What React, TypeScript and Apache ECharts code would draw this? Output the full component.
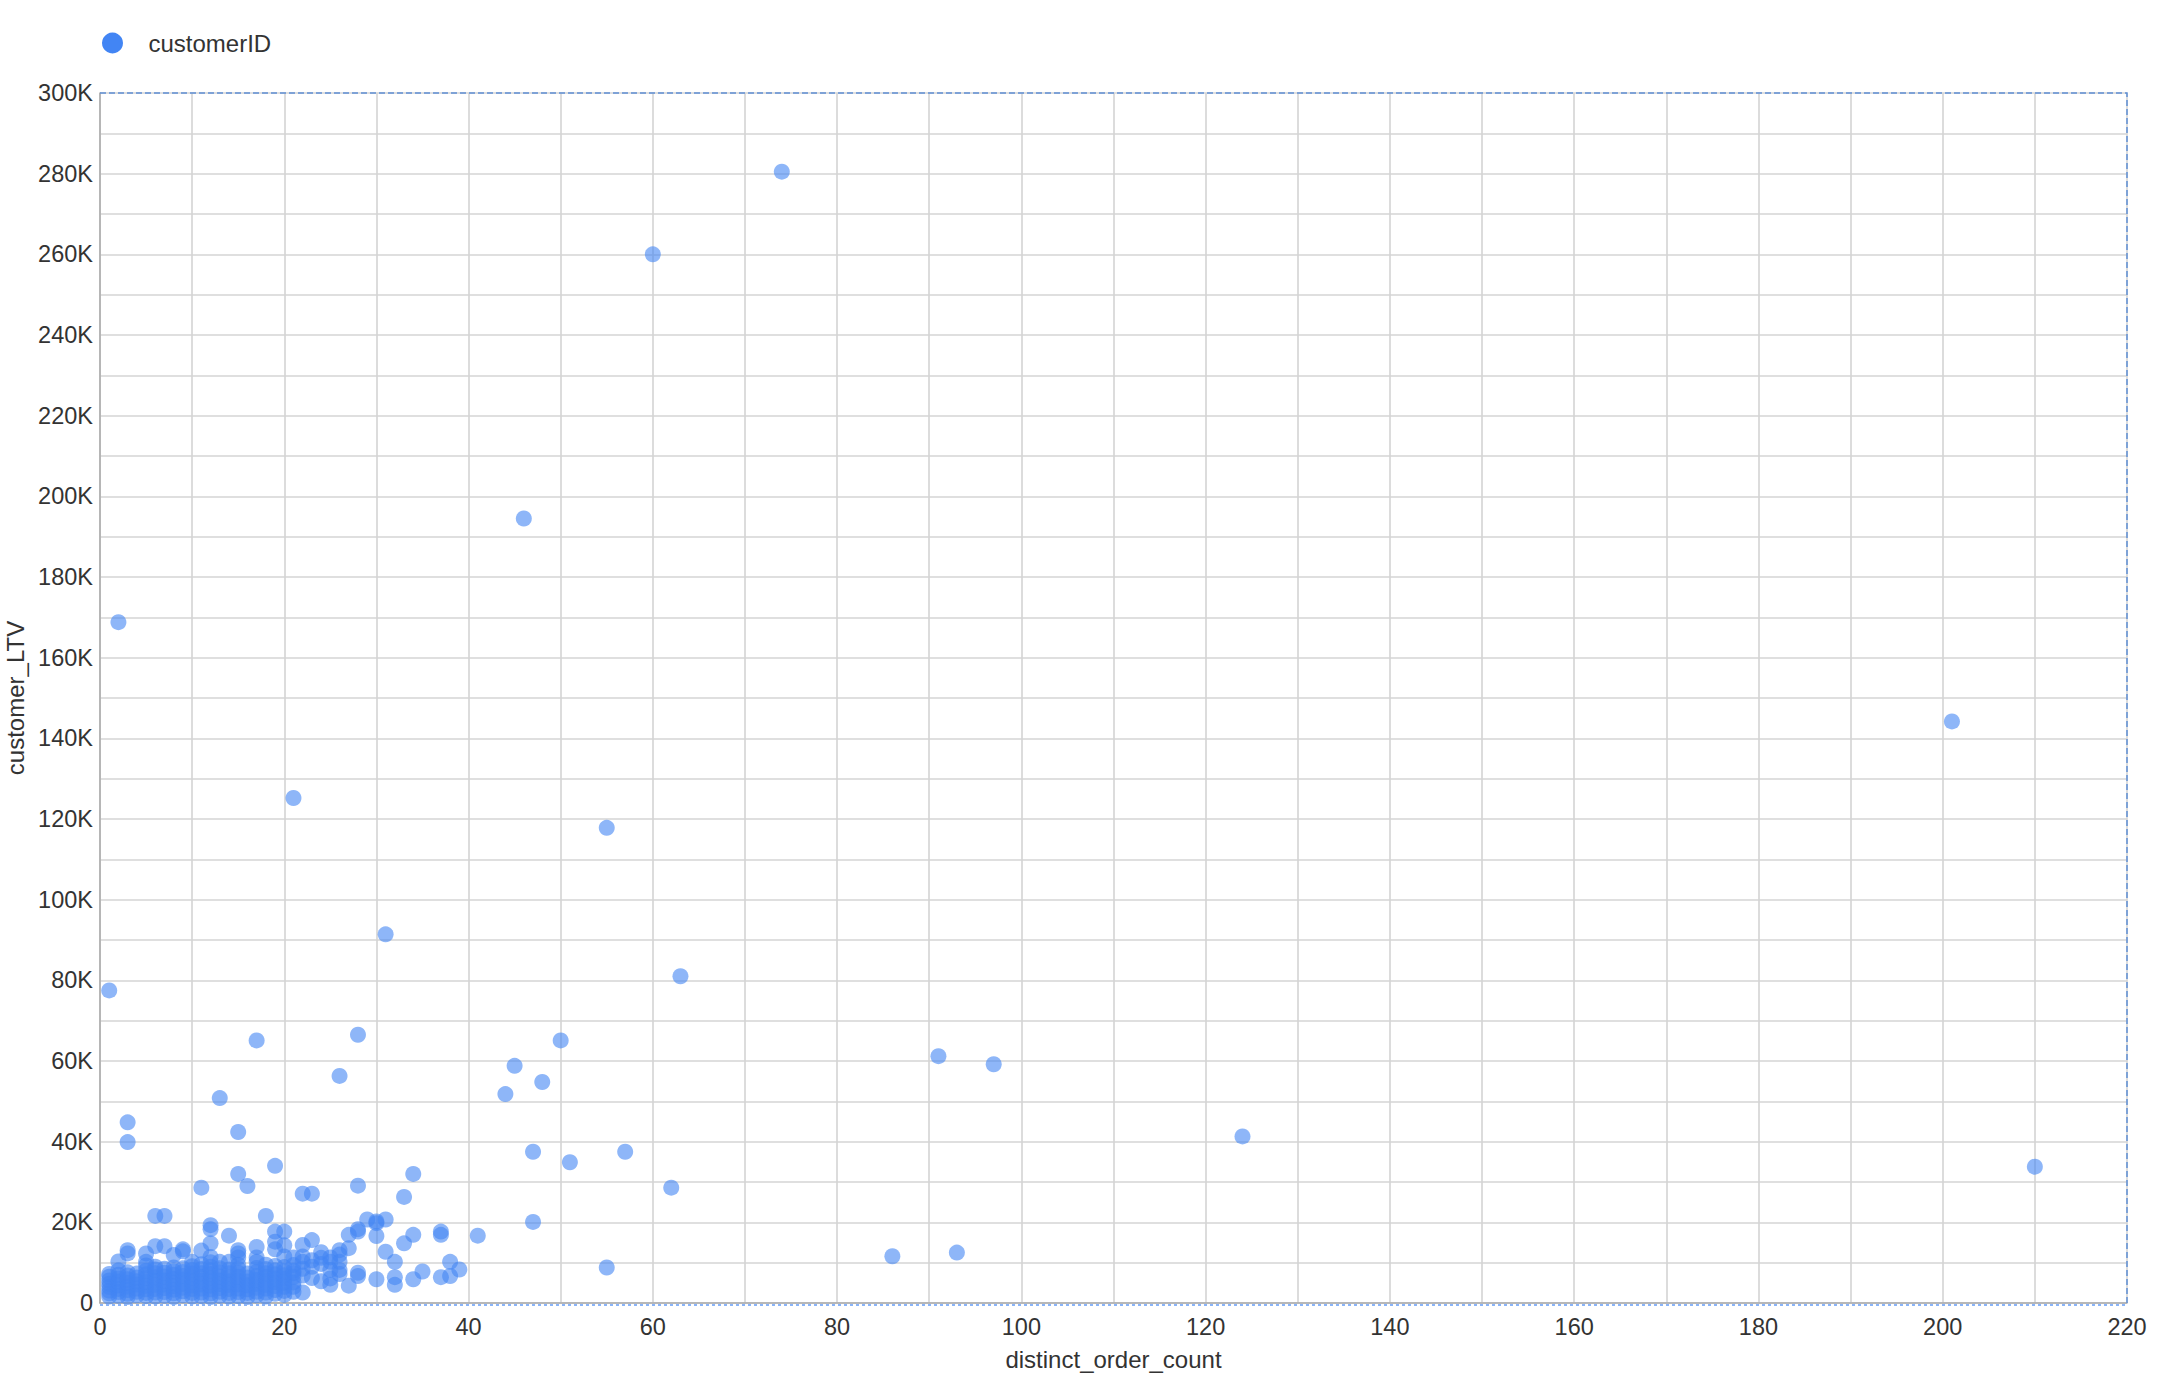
import React, { useEffect, useRef } from "react";
import * as echarts from "echarts";

const seriesName = "customerID";
const xAxisName = "distinct_order_count";
const yAxisName = "customer_LTV";

// [distinct_order_count, customer_LTV]
const outlierPoints: [number, number][] = [
  [74, 280500], [60, 260000], [46, 194500], [2, 168800], [201, 144200], [21, 125200],
  [55, 117800], [31, 91400], [63, 81000], [1, 77500], [28, 66500], [17, 65100],
  [50, 65100], [91, 61200], [97, 59200], [45, 58800], [26, 56300], [48, 54800],
  [44, 51800], [13, 50800], [3, 44800], [15, 42400], [124, 41300], [3, 39900],
  [47, 37500], [57, 37500], [51, 34900], [210, 33800], [19, 34000], [34, 32000],
  [15, 32000], [11, 28600], [16, 29000], [28, 29100], [62, 28600], [22, 27100],
  [23, 27100], [33, 26300], [6, 21600], [7, 21600], [18, 21600], [47, 20100],
  [86, 11600], [93, 12500], [55, 8800],
];

const midPoints: [number, number][] = [
  [12, 19300], [12, 18300], [14, 16700], [19, 17700], [20, 17700], [19, 15200],
  [20, 14300], [12, 14800], [15, 13100], [15, 12300], [17, 13900], [19, 13300],
  [17, 11300], [15, 11300], [11, 13000], [3, 13100], [3, 12300], [5, 12300],
  [6, 14100], [7, 14100], [9, 13300], [2, 10300], [8, 11900], [10, 10200],
  [5, 10200], [12, 11400], [13, 10200], [14, 10200], [17, 10200], [18, 9500],
  [9, 12800], [20, 11500], [21, 11300], [21, 9400], [21, 8000], [21, 6500],
  [21, 4000], [22, 14400], [22, 11500], [22, 10200], [22, 2600], [22, 6800],
  [22, 8500], [23, 15600], [23, 10600], [23, 9000], [23, 6200], [24, 12600],
  [24, 9700], [24, 11200], [24, 5400], [25, 11300], [25, 10200], [25, 8200],
  [25, 6100], [25, 4500], [26, 13100], [26, 12000], [26, 10200], [26, 8200],
  [26, 7200], [27, 16900], [27, 13600], [27, 4300], [28, 18300], [28, 17700],
  [28, 7500], [28, 6700], [29, 20700], [30, 20200], [30, 19800], [30, 16600],
  [30, 5900], [31, 20700], [31, 12700], [32, 10200], [32, 6400], [32, 4500],
  [33, 14800], [34, 16900], [34, 5900], [35, 7800], [37, 17700], [37, 16900],
  [37, 6400], [38, 10200], [38, 6700], [39, 8300], [41, 16700],
];

const clusterPoints: [number, number][] = [
  [1, 1600], [1, 2400], [1, 3100], [1, 4000], [1, 4800], [1, 5600], [1, 6500], [1, 7200],
  [2, 1800], [2, 2700], [2, 3500], [2, 4400], [2, 5300], [2, 6100], [2, 7000], [2, 8100],
  [3, 1500], [3, 2300], [3, 3200], [3, 4100], [3, 5000], [3, 5900], [3, 6800], [3, 7600],
  [4, 1900], [4, 2800], [4, 3600], [4, 4600], [4, 5400], [4, 6300], [4, 7300],
  [5, 1700], [5, 2500], [5, 3400], [5, 4300], [5, 5200], [5, 6200], [5, 7100], [5, 8000], [5, 9300],
  [6, 1600], [6, 2600], [6, 3500], [6, 4500], [6, 5500], [6, 6400], [6, 7400], [6, 8300], [6, 9000],
  [7, 1800], [7, 2700], [7, 3700], [7, 4600], [7, 5600], [7, 6600], [7, 7500], [7, 8500],
  [8, 1500], [8, 2400], [8, 3300], [8, 4200], [8, 5100], [8, 6000], [8, 7000], [8, 7900], [8, 8800],
  [9, 1900], [9, 2900], [9, 3800], [9, 4800], [9, 5800], [9, 6700], [9, 7700], [9, 8600],
  [10, 1600], [10, 2500], [10, 3500], [10, 4400], [10, 5400], [10, 6300], [10, 7300], [10, 8200], [10, 9100],
  [11, 1700], [11, 2600], [11, 3600], [11, 4600], [11, 5500], [11, 6500], [11, 7400], [11, 8400], [11, 9600],
  [12, 1500], [12, 2400], [12, 3400], [12, 4300], [12, 5300], [12, 6200], [12, 7200], [12, 8100], [12, 9000], [12, 10100],
  [13, 1800], [13, 2800], [13, 3700], [13, 4700], [13, 5600], [13, 6600], [13, 7600], [13, 8600],
  [14, 1600], [14, 2500], [14, 3500], [14, 4500], [14, 5400], [14, 6400], [14, 7400], [14, 8300],
  [15, 1700], [15, 2700], [15, 3600], [15, 4600], [15, 5600], [15, 6500], [15, 7500], [15, 8500], [15, 9500],
  [16, 1500], [16, 2500], [16, 3400], [16, 4400], [16, 5300], [16, 6300], [16, 7300],
  [17, 1900], [17, 2800], [17, 3800], [17, 4800], [17, 5700], [17, 6700], [17, 7700], [17, 8700],
  [18, 1600], [18, 2600], [18, 3600], [18, 4500], [18, 5500], [18, 6500], [18, 7400], [18, 8400],
  [19, 2300], [19, 3200], [19, 4200], [19, 5200], [19, 6100], [19, 7100], [19, 8100], [19, 9200],
  [20, 2000], [20, 3000], [20, 4000], [20, 5000], [20, 6000], [20, 6900], [20, 7900], [20, 8900],
  [21, 2800], [21, 5100], [21, 7400],
];

const textColor = "#333333";
const fontFamily = "'Liberation Sans', Arial, Helvetica, sans-serif";

function formatK(v: number): string {
  return v === 0 ? "0" : v / 1000 + "K";
}

const GRID_LEFT = 100;
const GRID_RIGHT = 39;
const GRID_TOP = 93;
const GRID_BOTTOM = 83;
const W = 2166;
const H = 1386;

export default function App() {
  const ref = useRef<HTMLDivElement>(null);
  useEffect(() => {
    document.body.style.margin = "0";
    const chart = echarts.init(ref.current!, null, { renderer: "svg" });
    const gridLine = { color: "#d4d4d4", width: 1.6 };
    const gx0 = GRID_LEFT;
    const gx1 = W - GRID_RIGHT;
    const gy0 = GRID_TOP;
    const gy1 = H - GRID_BOTTOM;
    chart.setOption({
      animation: false,
      backgroundColor: "#ffffff",
      textStyle: { fontFamily },
      legend: {
        show: true,
        left: 97,
        top: 26,
        icon: "circle",
        itemWidth: 62,
        itemHeight: 21,
        itemStyle: { opacity: 1 },
        textStyle: { fontSize: 24, color: textColor, fontFamily },
        data: [seriesName],
      },
      grid: {
        left: GRID_LEFT,
        right: GRID_RIGHT,
        top: GRID_TOP,
        bottom: GRID_BOTTOM,
        outerBoundsMode: "none",
        containLabel: false,
      },
      graphic: [
        {
          type: "polyline",
          z: 100,
          silent: true,
          shape: { points: [[gx0, gy0], [gx1, gy0], [gx1, gy1]] },
          style: { fill: null, stroke: "#5f8fd4", lineWidth: 1.5, lineDash: [6, 3] },
        },
        {
          type: "line",
          z: 100,
          silent: true,
          shape: { x1: gx0, y1: gy1 + 2, x2: gx1, y2: gy1 + 2 },
          style: { stroke: "#8ab4f8", lineWidth: 2, lineDash: [3, 3] },
        },
      ],
      xAxis: {
        type: "value",
        min: 0,
        max: 220,
        interval: 20,
        name: xAxisName,
        nameLocation: "middle",
        nameGap: 44,
        nameTextStyle: { fontSize: 24, color: textColor, fontFamily },
        axisLine: { show: true, lineStyle: { color: "#aaaaaa", width: 1.5 } },
        axisTick: { show: false },
        axisLabel: { fontSize: 23.5, color: textColor, margin: 12, fontFamily },
        splitLine: { show: true, lineStyle: gridLine },
        minorTick: { show: false, splitNumber: 2 },
        minorSplitLine: { show: true, lineStyle: gridLine },
      },
      yAxis: {
        type: "value",
        min: 0,
        max: 300000,
        interval: 20000,
        name: yAxisName,
        nameLocation: "middle",
        nameGap: 67,
        nameTextStyle: { fontSize: 24, color: textColor, fontFamily },
        axisLine: { show: true, lineStyle: { color: "#aaaaaa", width: 1.5 } },
        axisTick: { show: false },
        axisLabel: { fontSize: 23.5, color: textColor, margin: 7, formatter: formatK, fontFamily },
        splitLine: { show: true, lineStyle: gridLine },
        minorTick: { show: false, splitNumber: 2 },
        minorSplitLine: { show: true, lineStyle: gridLine },
      },
      series: [
        {
          type: "scatter",
          name: seriesName,
          data: [...clusterPoints, ...midPoints, ...outlierPoints],
          symbolSize: 16,
          itemStyle: { color: "#4285F4", opacity: 0.6 },
        },
      ],
    });
    return () => chart.dispose();
  }, []);
  return <div ref={ref} style={{ width: W, height: H }} />;
}
